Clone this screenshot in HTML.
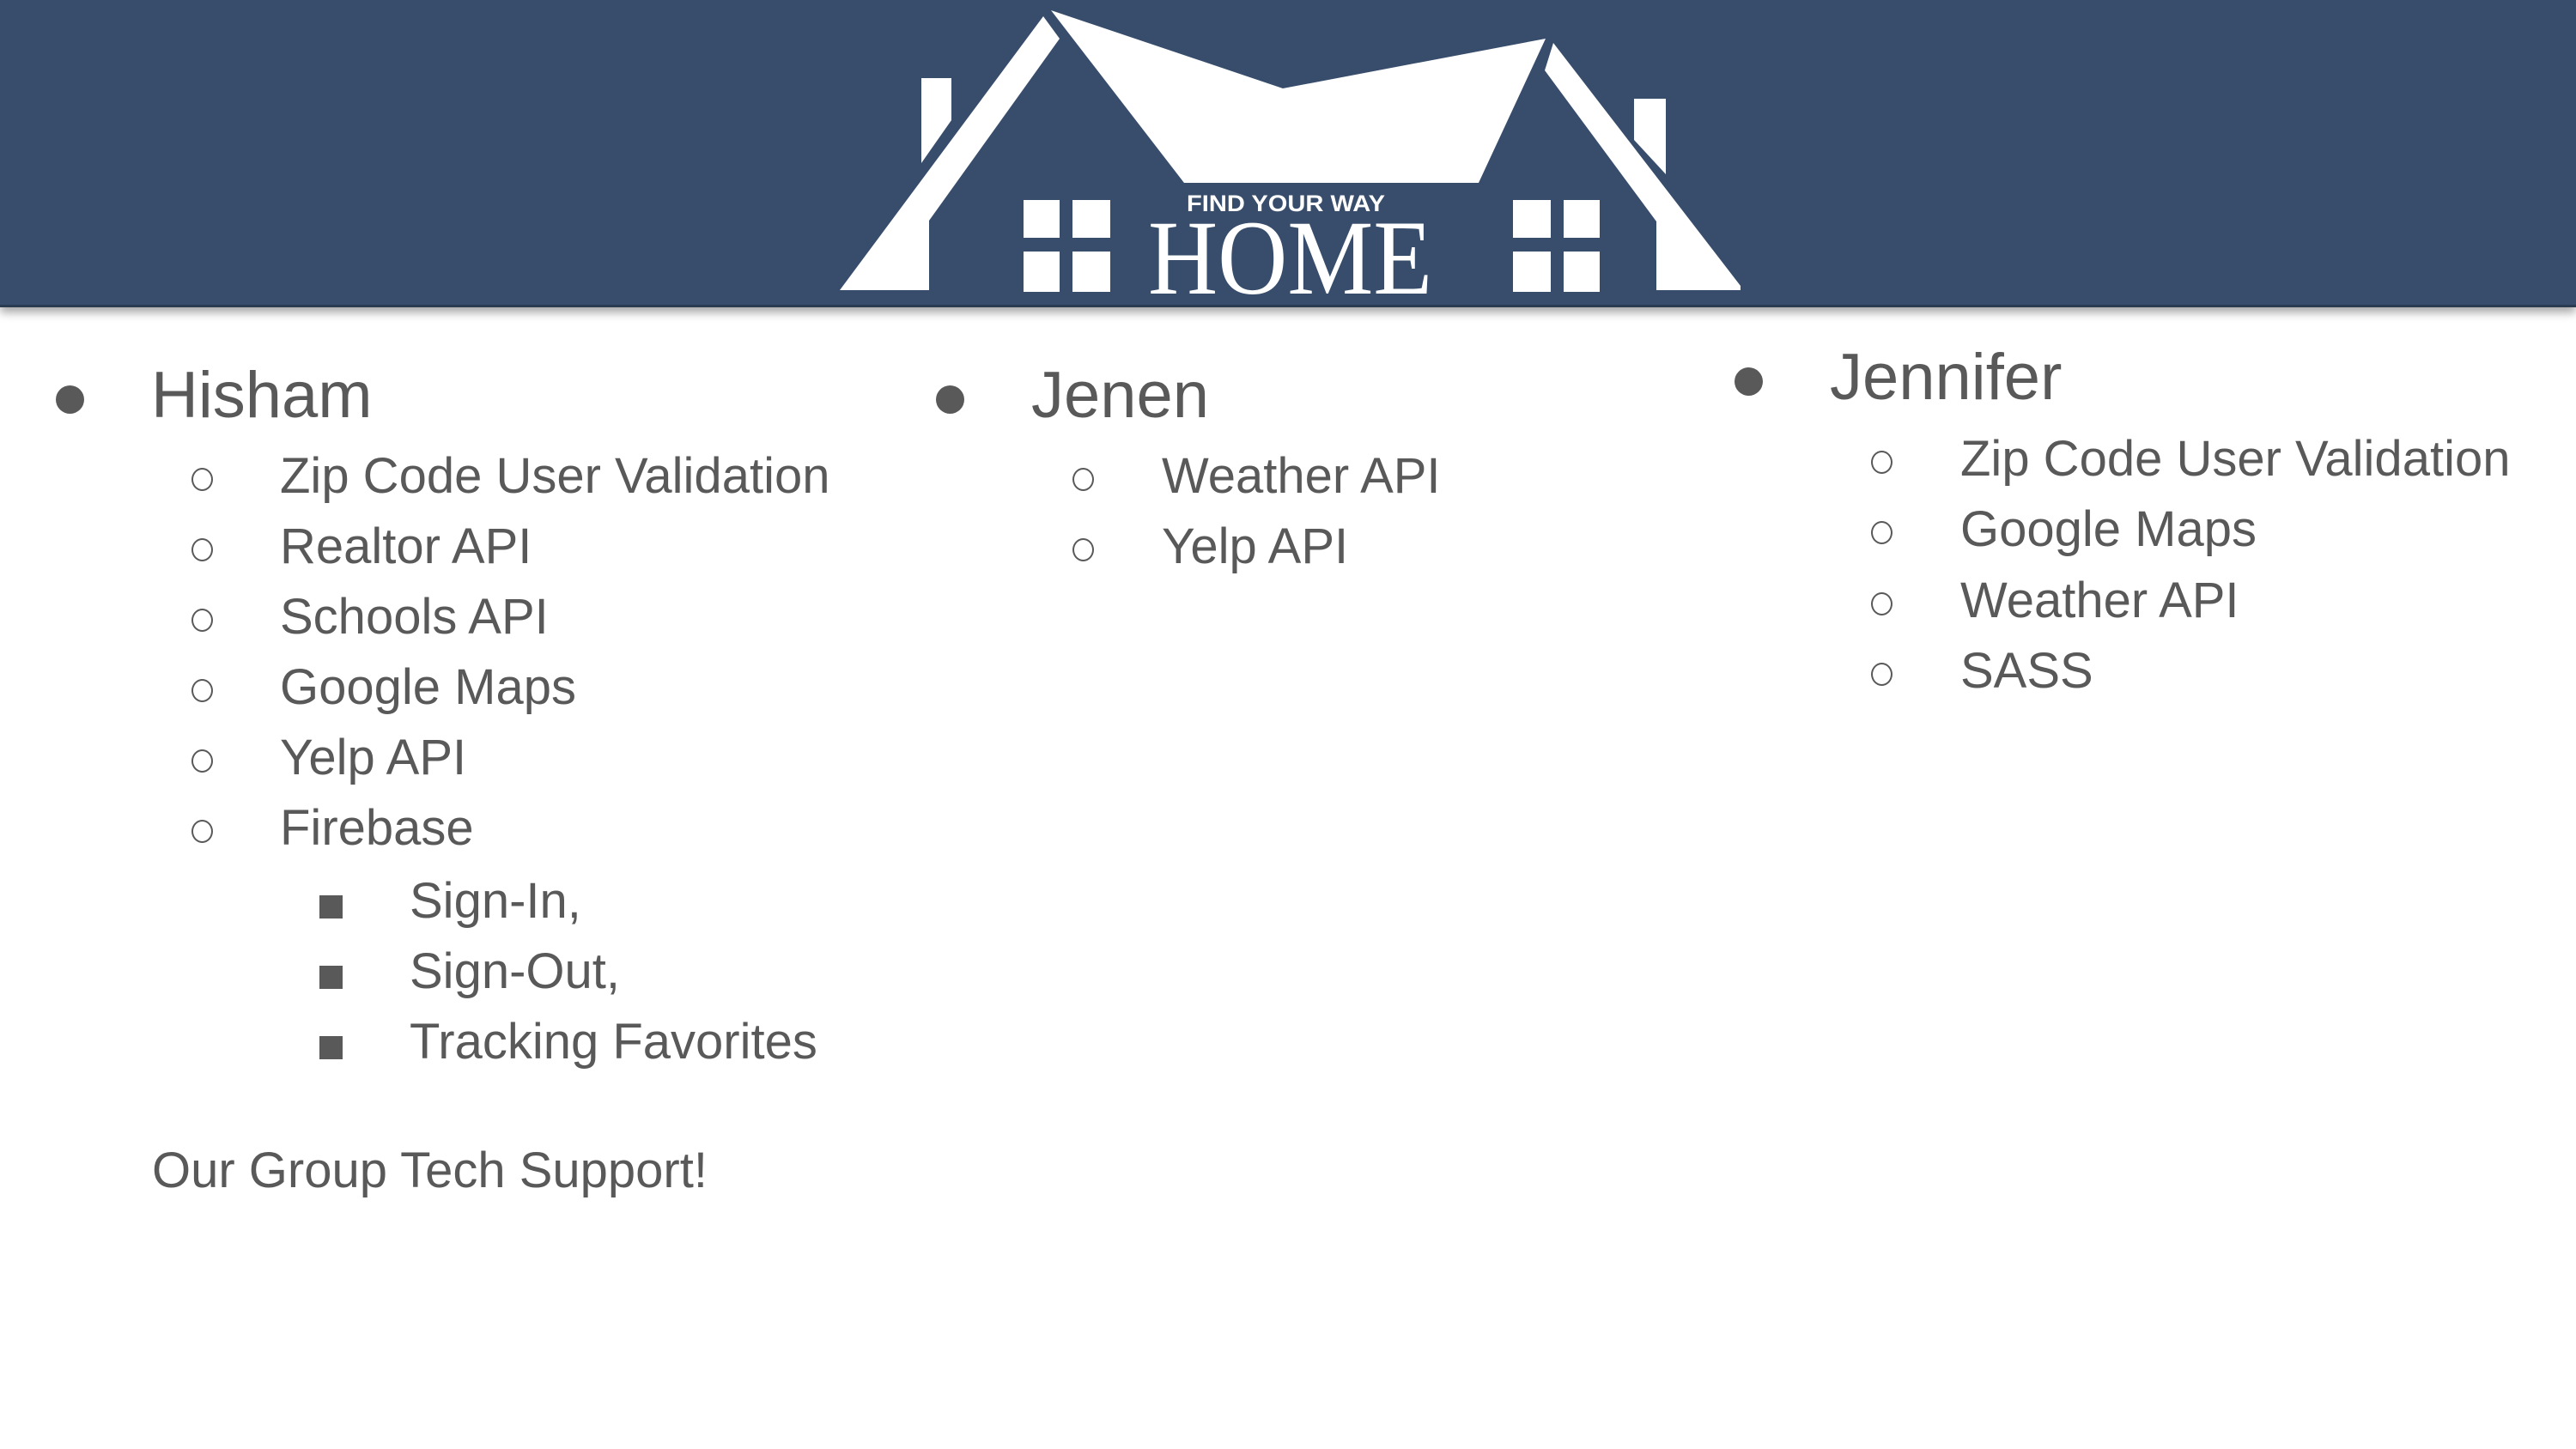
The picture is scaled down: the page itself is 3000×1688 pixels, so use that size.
<!DOCTYPE html>
<html><head><meta charset="utf-8"><style>
html,body{margin:0;padding:0;}
body{width:3000px;height:1688px;position:relative;background:#fff;overflow:hidden;font-family:"Liberation Sans",sans-serif;color:#595959;}
.banner{position:absolute;left:0;top:0;width:3000px;height:358px;background:#374d6b;box-shadow:0 6px 10px rgba(0,0,0,0.35);border-bottom:3px solid #2a3b52;box-sizing:border-box;}
.t{position:absolute;white-space:nowrap;line-height:1;}
.l1{font-size:76px;}
.l2{font-size:58px;}
.dot{position:absolute;width:33px;height:33px;border-radius:50%;background:#595959;}
.circ{position:absolute;width:21px;height:23px;border-radius:50%;border:2.5px solid #595959;}
.sq{position:absolute;width:27px;height:27px;background:#595959;}
</style></head><body>
<div class="banner"></div>
<svg style="position:absolute;left:0;top:0" width="3000" height="360">
<g fill="#fff">
<polygon points="978,338 1215,19 1234,45 1082,257 1082,338"/>
<polygon points="1073,91 1108,91 1108,140 1073,190"/>
<polygon points="1224,12 1494,103 1800,45 1722,213 1379,213"/>
<polygon points="1809,50 2027,333 2027,338 1929,338 1929,258 1799,82"/>
<polygon points="1903,115 1940,115 1940,203 1903,163"/>
<rect x="1192" y="233" width="42" height="44"/><rect x="1249" y="233" width="44" height="44"/>
<rect x="1192" y="293" width="42" height="47"/><rect x="1249" y="293" width="44" height="47"/>
<rect x="1762" y="233" width="44" height="44"/><rect x="1821" y="233" width="42" height="44"/>
<rect x="1762" y="293" width="44" height="47"/><rect x="1821" y="293" width="42" height="47"/>
<text x="1382" y="246" font-family="Liberation Sans" font-weight="bold" font-size="27" textLength="231" lengthAdjust="spacingAndGlyphs">FIND YOUR WAY</text>
<text x="1337" y="342" font-family="Liberation Serif" font-size="124" textLength="331" lengthAdjust="spacingAndGlyphs">HOME</text>
</g></svg>

<div class="dot" style="left:65px;top:449px"></div>
<div class="t l1" style="left:176px;top:423px">Hisham</div>
<div class="circ" style="left:223px;top:545px"></div><div class="t l2" style="left:326px;top:526px">Zip Code User Validation</div>
<div class="circ" style="left:223px;top:627px"></div><div class="t l2" style="left:326px;top:608px">Realtor API</div>
<div class="circ" style="left:223px;top:709px"></div><div class="t l2" style="left:326px;top:690px">Schools API</div>
<div class="circ" style="left:223px;top:791px"></div><div class="t l2" style="left:326px;top:772px">Google Maps</div>
<div class="circ" style="left:223px;top:873px"></div><div class="t l2" style="left:326px;top:854px">Yelp API</div>
<div class="circ" style="left:223px;top:955px"></div><div class="t l2" style="left:326px;top:936px">Firebase</div>
<div class="sq" style="left:372px;top:1043px"></div><div class="t l2" style="left:477px;top:1021px">Sign-In,</div>
<div class="sq" style="left:372px;top:1125px"></div><div class="t l2" style="left:477px;top:1103px">Sign-Out,</div>
<div class="sq" style="left:372px;top:1207px"></div><div class="t l2" style="left:477px;top:1185px">Tracking Favorites</div>
<div class="t l2" style="left:177px;top:1335px">Our Group Tech Support!</div>

<div class="dot" style="left:1090px;top:449px"></div>
<div class="t l1" style="left:1201px;top:423px">Jenen</div>
<div class="circ" style="left:1249px;top:545px"></div><div class="t l2" style="left:1353px;top:526px">Weather API</div>
<div class="circ" style="left:1249px;top:627px"></div><div class="t l2" style="left:1353px;top:608px">Yelp API</div>

<div class="dot" style="left:2020px;top:428px"></div>
<div class="t l1" style="left:2131px;top:402px">Jennifer</div>
<div class="circ" style="left:2179px;top:525px"></div><div class="t l2" style="left:2283px;top:506px">Zip Code User Validation</div>
<div class="circ" style="left:2179px;top:607px"></div><div class="t l2" style="left:2283px;top:588px">Google Maps</div>
<div class="circ" style="left:2179px;top:690px"></div><div class="t l2" style="left:2283px;top:671px">Weather API</div>
<div class="circ" style="left:2179px;top:772px"></div><div class="t l2" style="left:2283px;top:753px">SASS</div>
</body></html>
